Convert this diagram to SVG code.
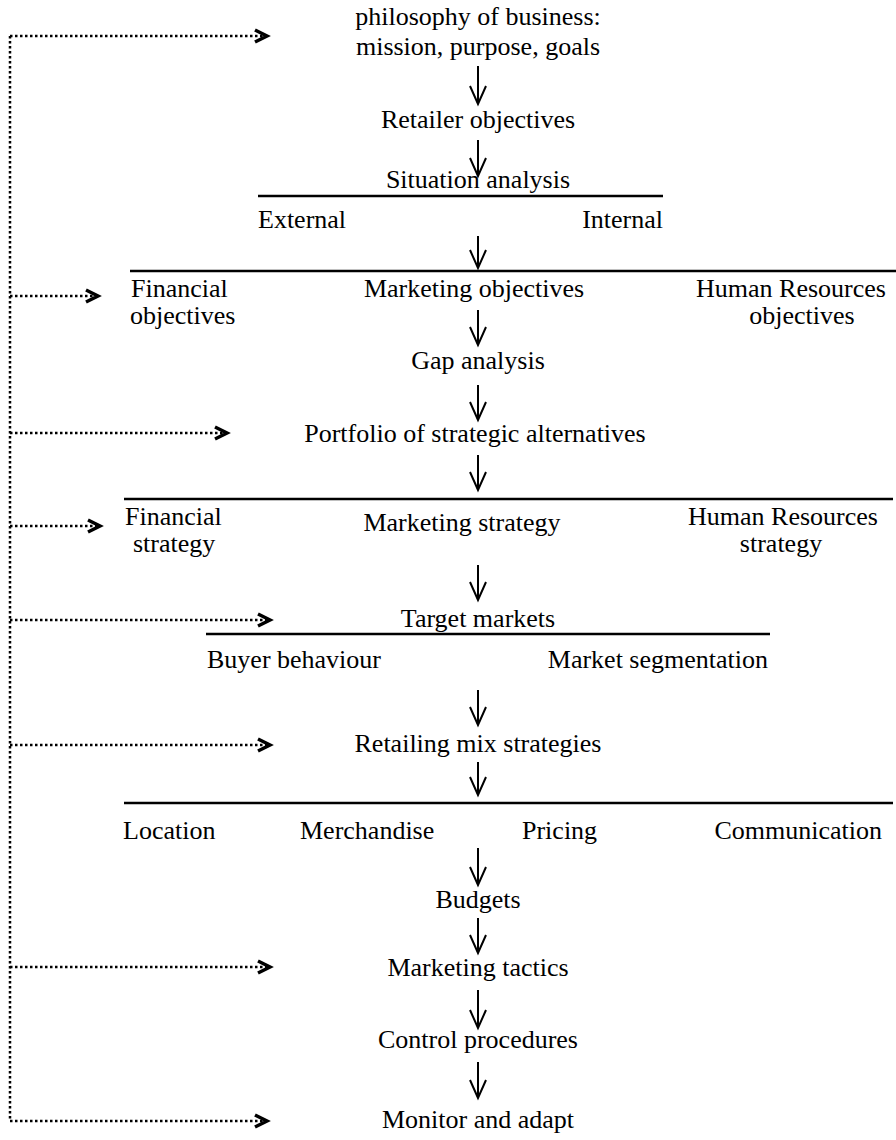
<svg xmlns="http://www.w3.org/2000/svg" width="896" height="1140" viewBox="0 0 896 1140">
  <style>
    .t { font-family: "Liberation Serif", "Times New Roman", serif; font-size: 26px; fill: #000; }
    .m { text-anchor: middle; }
    .e { text-anchor: end; }
    .rule { stroke: #000; stroke-width: 2.5; fill: none; }
    .down { stroke: #000; stroke-width: 2; fill: none; }
    .dot { stroke: #000; stroke-width: 2.5; fill: none; stroke-dasharray: 2.5 2.5; }
    .head { stroke: #000; stroke-width: 3.5; fill: none; stroke-linejoin: miter; }
  </style>
  <defs>
    <!-- open V head for the downward flow arrows -->
    <path id="vhead" d="M-8,-18 L0,0 L8,-18" class="down"/>
    <!-- bold chevron for the dotted feedback arrows -->
    <path id="chev" d="M-12,-6 L0,0 L-12,6" class="head"/>
  </defs>

  <rect width="896" height="1140" fill="#fff"/>

  <!-- separator rules -->
  <g id="rules">
    <line class="rule" x1="258" y1="196" x2="663" y2="196"/>
    <line class="rule" x1="130" y1="271" x2="896" y2="271"/>
    <line class="rule" x1="124" y1="499" x2="893" y2="499"/>
    <line class="rule" x1="206" y1="634" x2="770" y2="634"/>
    <line class="rule" x1="124" y1="803" x2="893" y2="803"/>
  </g>

  <!-- connectors -->
  <g id="connectors">
    <!-- downward flow -->
    <g>
      <line class="down" x1="478" y1="66" x2="478" y2="104"/><use href="#vhead" x="478" y="104"/>
      <line class="down" x1="478" y1="140" x2="478" y2="176"/><use href="#vhead" x="478" y="176"/>
      <line class="down" x1="478" y1="236" x2="478" y2="268"/><use href="#vhead" x="478" y="268"/>
      <line class="down" x1="478" y1="310" x2="478" y2="345"/><use href="#vhead" x="478" y="345"/>
      <line class="down" x1="478" y1="385" x2="478" y2="420"/><use href="#vhead" x="478" y="420"/>
      <line class="down" x1="478" y1="455" x2="478" y2="490"/><use href="#vhead" x="478" y="490"/>
      <line class="down" x1="478" y1="565" x2="478" y2="600"/><use href="#vhead" x="478" y="600"/>
      <line class="down" x1="478" y1="690" x2="478" y2="725"/><use href="#vhead" x="478" y="725"/>
      <line class="down" x1="478" y1="762" x2="478" y2="795"/><use href="#vhead" x="478" y="795"/>
      <line class="down" x1="478" y1="848" x2="478" y2="885"/><use href="#vhead" x="478" y="885"/>
      <line class="down" x1="478" y1="918" x2="478" y2="953"/><use href="#vhead" x="478" y="953"/>
      <line class="down" x1="478" y1="990" x2="478" y2="1028"/><use href="#vhead" x="478" y="1028"/>
      <line class="down" x1="478" y1="1062" x2="478" y2="1098"/><use href="#vhead" x="478" y="1098"/>
    </g>
    <!-- dotted feedback spine and branches -->
    <g>
      <line class="dot" x1="10" y1="36" x2="10" y2="1121"/>
      <line class="dot" x1="10" y1="36" x2="264" y2="36"/><use href="#chev" x="267" y="36"/>
      <line class="dot" x1="10" y1="296" x2="95" y2="296"/><use href="#chev" x="98" y="296"/>
      <line class="dot" x1="10" y1="433" x2="224" y2="433"/><use href="#chev" x="227" y="433"/>
      <line class="dot" x1="10" y1="526" x2="97" y2="526"/><use href="#chev" x="100" y="526"/>
      <line class="dot" x1="10" y1="620" x2="267" y2="620"/><use href="#chev" x="270" y="620"/>
      <line class="dot" x1="10" y1="745" x2="267" y2="745"/><use href="#chev" x="270" y="745"/>
      <line class="dot" x1="10" y1="967" x2="267" y2="967"/><use href="#chev" x="270" y="967"/>
      <line class="dot" x1="10" y1="1121" x2="264" y2="1121"/><use href="#chev" x="267" y="1121"/>
    </g>
  </g>

  <g id="philosophy"><text class="t m" x="478" y="25">philosophy of business:</text><text class="t m" x="478" y="55">mission, purpose, goals</text></g>
  <g id="retailer-objectives"><text class="t m" x="478" y="128">Retailer objectives</text></g>
  <g id="situation-analysis"><text class="t m" x="478" y="188">Situation analysis</text></g>
  <g id="external"><text class="t" x="258" y="228">External</text></g>
  <g id="internal"><text class="t e" x="663" y="228">Internal</text></g>
  <g id="financial-objectives"><text class="t" x="131" y="297">Financial</text><text class="t" x="130" y="324">objectives</text></g>
  <g id="marketing-objectives"><text class="t m" x="474" y="297">Marketing objectives</text></g>
  <g id="hr-objectives"><text class="t m" x="791" y="297">Human Resources</text><text class="t m" x="802" y="324">objectives</text></g>
  <g id="gap-analysis"><text class="t m" x="478" y="369">Gap analysis</text></g>
  <g id="portfolio"><text class="t m" x="475" y="442">Portfolio of strategic alternatives</text></g>
  <g id="financial-strategy"><text class="t" x="125" y="525">Financial</text><text class="t" x="133" y="552">strategy</text></g>
  <g id="marketing-strategy"><text class="t m" x="462" y="531">Marketing strategy</text></g>
  <g id="hr-strategy"><text class="t m" x="783" y="525">Human Resources</text><text class="t m" x="781" y="552">strategy</text></g>
  <g id="target-markets"><text class="t m" x="478" y="627">Target markets</text></g>
  <g id="buyer-behaviour"><text class="t" x="207" y="668">Buyer behaviour</text></g>
  <g id="market-segmentation"><text class="t e" x="768" y="668">Market segmentation</text></g>
  <g id="retailing-mix"><text class="t m" x="478" y="752">Retailing mix strategies</text></g>
  <g id="location"><text class="t" x="123" y="839">Location</text></g>
  <g id="merchandise"><text class="t" x="300" y="839">Merchandise</text></g>
  <g id="pricing"><text class="t" x="522" y="839">Pricing</text></g>
  <g id="communication"><text class="t e" x="882" y="839">Communication</text></g>
  <g id="budgets"><text class="t m" x="478" y="908">Budgets</text></g>
  <g id="marketing-tactics"><text class="t m" x="478" y="976">Marketing tactics</text></g>
  <g id="control-procedures"><text class="t m" x="478" y="1048">Control procedures</text></g>
  <g id="monitor-adapt"><text class="t m" x="478" y="1128">Monitor and adapt</text></g>
</svg>
